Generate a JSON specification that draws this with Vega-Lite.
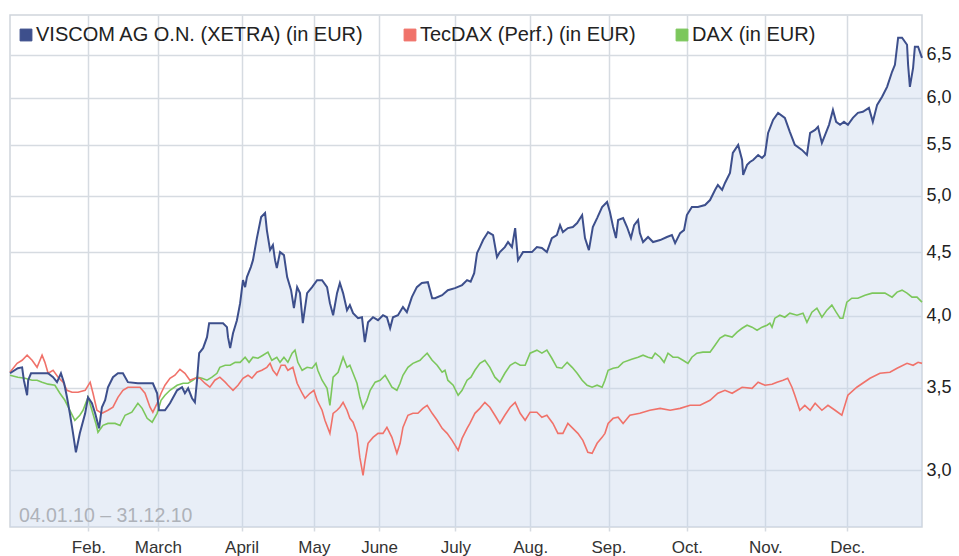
{
  "$schema": "https://vega.github.io/schema/vega-lite/v6.json",
  "width": 912,
  "height": 512,
  "autosize": {"type": "none"},
  "padding": {"left": 10, "top": 15, "right": 37, "bottom": 29},
  "background": "white",
  "config": {
    "font": "Liberation Sans",
    "view": {"stroke": "#cfd5dc", "strokeWidth": 1.5},
    "axis": {"grid": true, "gridColor": "#d6dbe1", "gridWidth": 1.5, "domain": false, "title": null, "labelFont": "Liberation Sans"}
  },
  "datasets": {
    "viscom": [
      {"t":0,"v":3.594},{"t":2.2,"v":3.628},{"t":3.4,"v":3.634},{"t":3.9,"v":3.548},{"t":4.8,"v":3.45},{"t":5.1,"v":3.548},{"t":5.9,"v":3.594},{"t":7.9,"v":3.594},{"t":10.7,"v":3.594},{"t":12.1,"v":3.568},{"t":13.2,"v":3.535},{"t":14.3,"v":3.594},{"t":15.2,"v":3.528},{"t":16.0,"v":3.437},{"t":16.8,"v":3.336},{"t":17.7,"v":3.214},{"t":18.5,"v":3.102},{"t":19.6,"v":3.214},{"t":21.1,"v":3.336},{"t":21.9,"v":3.437},{"t":23.0,"v":3.399},{"t":23.9,"v":3.336},{"t":25.0,"v":3.244},{"t":25.8,"v":3.374},{"t":26.7,"v":3.418},{"t":27.5,"v":3.502},{"t":28.9,"v":3.568},{"t":30.3,"v":3.594},{"t":31.7,"v":3.594},{"t":33.1,"v":3.535},{"t":35.9,"v":3.528},{"t":38.7,"v":3.528},{"t":40.1,"v":3.528},{"t":41.3,"v":3.463},{"t":41.8,"v":3.355},{"t":43.5,"v":3.355},{"t":44.9,"v":3.399},{"t":46.9,"v":3.482},{"t":48.3,"v":3.502},{"t":49.1,"v":3.463},{"t":50.0,"v":3.495},{"t":51.1,"v":3.431},{"t":51.9,"v":3.405},{"t":52.5,"v":3.548},{"t":53.1,"v":3.731},{"t":54.2,"v":3.766},{"t":55.3,"v":3.844},{"t":55.9,"v":3.945},{"t":57.5,"v":3.945},{"t":59.8,"v":3.945},{"t":60.9,"v":3.916},{"t":61.2,"v":3.844},{"t":61.8,"v":3.766},{"t":62.6,"v":3.872},{"t":63.7,"v":3.967},{"t":64.6,"v":4.095},{"t":65.4,"v":4.274},{"t":66.0,"v":4.219},{"t":66.5,"v":4.298},{"t":67.6,"v":4.379},{"t":68.2,"v":4.436},{"t":69.3,"v":4.622},{"t":70.5,"v":4.806},{"t":71.6,"v":4.842},{"t":72.1,"v":4.691},{"t":73.0,"v":4.52},{"t":73.8,"v":4.562},{"t":74.4,"v":4.436},{"t":74.9,"v":4.371},{"t":75.8,"v":4.503},{"t":76.9,"v":4.478},{"t":77.8,"v":4.298},{"t":78.9,"v":4.195},{"t":79.7,"v":4.057},{"t":80.6,"v":4.219},{"t":81.4,"v":4.172},{"t":82.2,"v":3.945},{"t":83.4,"v":4.172},{"t":84.8,"v":4.219},{"t":86.2,"v":4.274},{"t":87.6,"v":4.274},{"t":89.0,"v":4.219},{"t":89.8,"v":4.095},{"t":90.7,"v":4.004},{"t":91.8,"v":4.172},{"t":92.6,"v":4.251},{"t":93.5,"v":4.172},{"t":94.6,"v":4.042},{"t":95.4,"v":4.08},{"t":96.3,"v":4.019},{"t":97.7,"v":3.982},{"t":98.8,"v":3.989},{"t":99.6,"v":3.808},{"t":100.5,"v":3.952},{"t":101.9,"v":3.989},{"t":103.3,"v":3.967},{"t":104.7,"v":4.004},{"t":105.8,"v":3.989},{"t":106.7,"v":3.908},{"t":107.5,"v":3.989},{"t":108.9,"v":4.004},{"t":110.3,"v":4.065},{"t":111.4,"v":4.027},{"t":112.8,"v":4.141},{"t":114.2,"v":4.219},{"t":115.6,"v":4.251},{"t":117.3,"v":4.258},{"t":118.5,"v":4.133},{"t":119.3,"v":4.133},{"t":121.3,"v":4.156},{"t":122.9,"v":4.195},{"t":124.9,"v":4.211},{"t":126.9,"v":4.235},{"t":128.3,"v":4.274},{"t":129.3,"v":4.262},{"t":130.3,"v":4.33},{"t":131.1,"v":4.495},{"t":131.9,"v":4.545},{"t":132.8,"v":4.605},{"t":134.2,"v":4.674},{"t":135.6,"v":4.648},{"t":136.7,"v":4.461},{"t":137.5,"v":4.503},{"t":138.9,"v":4.545},{"t":139.8,"v":4.588},{"t":140.9,"v":4.545},{"t":141.8,"v":4.709},{"t":142.6,"v":4.436},{"t":144.0,"v":4.503},{"t":146.5,"v":4.503},{"t":147.9,"v":4.545},{"t":149.3,"v":4.537},{"t":150.7,"v":4.503},{"t":152.1,"v":4.622},{"t":153.5,"v":4.648},{"t":154.4,"v":4.735},{"t":155.2,"v":4.674},{"t":156.6,"v":4.709},{"t":158.0,"v":4.718},{"t":159.2,"v":4.753},{"t":160.6,"v":4.824},{"t":161.4,"v":4.622},{"t":162.5,"v":4.52},{"t":163.6,"v":4.718},{"t":164.8,"v":4.797},{"t":166.2,"v":4.897},{"t":167.6,"v":4.943},{"t":168.4,"v":4.852},{"t":169.3,"v":4.718},{"t":170.1,"v":4.622},{"t":170.7,"v":4.78},{"t":172.1,"v":4.797},{"t":173.2,"v":4.718},{"t":174.3,"v":4.622},{"t":175.2,"v":4.735},{"t":176.3,"v":4.78},{"t":176.8,"v":4.665},{"t":177.7,"v":4.588},{"t":179.1,"v":4.631},{"t":180.5,"v":4.588},{"t":182.5,"v":4.605},{"t":184.4,"v":4.631},{"t":185.8,"v":4.648},{"t":186.7,"v":4.579},{"t":188.1,"v":4.665},{"t":189.2,"v":4.691},{"t":190.0,"v":4.824},{"t":191.4,"v":4.897},{"t":193.1,"v":4.897},{"t":195.1,"v":4.915},{"t":196.5,"v":4.961},{"t":197.9,"v":5.055},{"t":198.7,"v":5.102},{"t":199.9,"v":5.055},{"t":200.7,"v":5.121},{"t":202.1,"v":5.218},{"t":202.9,"v":5.415},{"t":204.4,"v":5.497},{"t":205.5,"v":5.345},{"t":205.8,"v":5.198},{"t":206.9,"v":5.296},{"t":207.7,"v":5.325},{"t":208.6,"v":5.345},{"t":210.0,"v":5.395},{"t":211.1,"v":5.365},{"t":211.9,"v":5.395},{"t":212.8,"v":5.621},{"t":214.2,"v":5.759},{"t":215.6,"v":5.835},{"t":217.5,"v":5.781},{"t":218.9,"v":5.632},{"t":220.3,"v":5.497},{"t":222.3,"v":5.446},{"t":223.7,"v":5.395},{"t":224.6,"v":5.621},{"t":226.0,"v":5.653},{"t":226.8,"v":5.685},{"t":227.9,"v":5.517},{"t":228.8,"v":5.6},{"t":229.9,"v":5.706},{"t":231.0,"v":5.867},{"t":231.9,"v":5.738},{"t":233.0,"v":5.706},{"t":234.1,"v":5.738},{"t":235.2,"v":5.706},{"t":236.6,"v":5.781},{"t":238.0,"v":5.835},{"t":239.4,"v":5.846},{"t":241.1,"v":5.889},{"t":242.2,"v":5.738},{"t":243.4,"v":5.922},{"t":244.8,"v":6.012},{"t":246.2,"v":6.124},{"t":247.6,"v":6.298},{"t":248.4,"v":6.38},{"t":249.3,"v":6.71},{"t":250.4,"v":6.71},{"t":251.8,"v":6.623},{"t":252.1,"v":6.38},{"t":252.6,"v":6.124},{"t":253.5,"v":6.345},{"t":254.0,"v":6.598},{"t":254.9,"v":6.598},{"t":256.0,"v":6.464}
    ],
    "dax": [
      {"t":0,"v":3.581},{"t":2.2,"v":3.568},{"t":4.2,"v":3.561},{"t":6.2,"v":3.548},{"t":7.6,"v":3.548},{"t":9.0,"v":3.535},{"t":10.7,"v":3.522},{"t":12.6,"v":3.515},{"t":14.0,"v":3.463},{"t":15.4,"v":3.418},{"t":16.8,"v":3.355},{"t":18.2,"v":3.293},{"t":19.6,"v":3.324},{"t":20.5,"v":3.355},{"t":21.9,"v":3.437},{"t":23.0,"v":3.355},{"t":24.1,"v":3.274},{"t":24.7,"v":3.22},{"t":26.1,"v":3.262},{"t":27.5,"v":3.274},{"t":29.5,"v":3.274},{"t":30.9,"v":3.262},{"t":32.3,"v":3.324},{"t":34.2,"v":3.343},{"t":35.9,"v":3.399},{"t":37.1,"v":3.367},{"t":38.5,"v":3.305},{"t":39.9,"v":3.281},{"t":41.3,"v":3.336},{"t":42.4,"v":3.418},{"t":43.5,"v":3.45},{"t":44.9,"v":3.482},{"t":46.9,"v":3.515},{"t":48.6,"v":3.528},{"t":50.0,"v":3.528},{"t":51.4,"v":3.548},{"t":52.5,"v":3.568},{"t":53.9,"v":3.561},{"t":55.3,"v":3.548},{"t":56.7,"v":3.568},{"t":58.1,"v":3.594},{"t":58.9,"v":3.634},{"t":60.4,"v":3.648},{"t":61.8,"v":3.648},{"t":63.2,"v":3.668},{"t":64.6,"v":3.668},{"t":66.0,"v":3.703},{"t":67.1,"v":3.668},{"t":68.2,"v":3.703},{"t":69.6,"v":3.696},{"t":71.0,"v":3.717},{"t":72.4,"v":3.738},{"t":73.5,"v":3.682},{"t":74.9,"v":3.703},{"t":75.8,"v":3.668},{"t":76.9,"v":3.703},{"t":78.0,"v":3.668},{"t":79.2,"v":3.731},{"t":80.0,"v":3.752},{"t":80.8,"v":3.668},{"t":82.0,"v":3.614},{"t":83.4,"v":3.634},{"t":84.8,"v":3.628},{"t":85.9,"v":3.661},{"t":86.4,"v":3.614},{"t":87.6,"v":3.548},{"t":89.0,"v":3.495},{"t":89.8,"v":3.386},{"t":90.7,"v":3.568},{"t":92.1,"v":3.601},{"t":93.5,"v":3.703},{"t":94.6,"v":3.634},{"t":95.4,"v":3.648},{"t":96.3,"v":3.594},{"t":97.4,"v":3.528},{"t":98.2,"v":3.437},{"t":99.1,"v":3.367},{"t":100.2,"v":3.418},{"t":101.1,"v":3.482},{"t":102.5,"v":3.535},{"t":103.9,"v":3.548},{"t":105.3,"v":3.581},{"t":106.1,"v":3.548},{"t":107.2,"v":3.502},{"t":108.6,"v":3.482},{"t":109.5,"v":3.528},{"t":110.3,"v":3.581},{"t":111.7,"v":3.634},{"t":113.1,"v":3.661},{"t":115.1,"v":3.682},{"t":115.9,"v":3.703},{"t":117.1,"v":3.731},{"t":118.5,"v":3.682},{"t":119.9,"v":3.648},{"t":121.3,"v":3.601},{"t":122.1,"v":3.614},{"t":122.9,"v":3.548},{"t":124.4,"v":3.515},{"t":125.8,"v":3.45},{"t":126.9,"v":3.482},{"t":128.3,"v":3.548},{"t":129.4,"v":3.568},{"t":130.5,"v":3.614},{"t":131.9,"v":3.661},{"t":133.3,"v":3.682},{"t":134.7,"v":3.634},{"t":136.1,"v":3.568},{"t":137.5,"v":3.535},{"t":138.9,"v":3.594},{"t":140.4,"v":3.648},{"t":141.8,"v":3.668},{"t":143.2,"v":3.648},{"t":144.6,"v":3.648},{"t":146.0,"v":3.731},{"t":147.9,"v":3.752},{"t":149.3,"v":3.731},{"t":150.7,"v":3.752},{"t":152.1,"v":3.696},{"t":153.5,"v":3.634},{"t":154.9,"v":3.628},{"t":156.4,"v":3.668},{"t":157.8,"v":3.634},{"t":159.2,"v":3.594},{"t":160.6,"v":3.548},{"t":162.0,"v":3.515},{"t":163.4,"v":3.502},{"t":164.8,"v":3.515},{"t":166.2,"v":3.502},{"t":167.0,"v":3.548},{"t":167.9,"v":3.614},{"t":169.3,"v":3.628},{"t":170.7,"v":3.634},{"t":172.1,"v":3.668},{"t":174.5,"v":3.689},{"t":176.3,"v":3.703},{"t":177.7,"v":3.717},{"t":179.1,"v":3.703},{"t":180.2,"v":3.696},{"t":181.1,"v":3.731},{"t":182.5,"v":3.703},{"t":183.6,"v":3.668},{"t":184.7,"v":3.731},{"t":186.1,"v":3.703},{"t":187.5,"v":3.703},{"t":188.9,"v":3.682},{"t":190.3,"v":3.661},{"t":191.4,"v":3.703},{"t":192.8,"v":3.731},{"t":194.5,"v":3.738},{"t":196.5,"v":3.738},{"t":197.9,"v":3.787},{"t":199.3,"v":3.837},{"t":200.7,"v":3.858},{"t":202.7,"v":3.844},{"t":204.1,"v":3.88},{"t":205.5,"v":3.908},{"t":206.9,"v":3.93},{"t":208.3,"v":3.916},{"t":209.7,"v":3.894},{"t":211.1,"v":3.916},{"t":212.5,"v":3.93},{"t":213.3,"v":3.945},{"t":213.9,"v":3.916},{"t":214.7,"v":3.982},{"t":216.1,"v":4.004},{"t":217.5,"v":3.989},{"t":218.9,"v":4.019},{"t":220.9,"v":4.004},{"t":222.6,"v":4.019},{"t":223.7,"v":3.952},{"t":225.1,"v":4.027},{"t":226.5,"v":4.057},{"t":227.9,"v":3.989},{"t":229.3,"v":4.042},{"t":230.7,"v":4.08},{"t":231.9,"v":4.027},{"t":233.0,"v":3.982},{"t":233.8,"v":3.982},{"t":234.9,"v":4.103},{"t":236.3,"v":4.133},{"t":238.0,"v":4.133},{"t":240.0,"v":4.156},{"t":242.0,"v":4.172},{"t":243.6,"v":4.172},{"t":245.6,"v":4.172},{"t":247.6,"v":4.141},{"t":249.0,"v":4.18},{"t":250.4,"v":4.195},{"t":251.8,"v":4.172},{"t":253.2,"v":4.141},{"t":254.6,"v":4.141},{"t":256.0,"v":4.103}
    ],
    "tecdax": [
      {"t":0,"v":3.601},{"t":2.0,"v":3.661},{"t":3.4,"v":3.682},{"t":4.8,"v":3.717},{"t":6.2,"v":3.682},{"t":7.6,"v":3.634},{"t":9.0,"v":3.717},{"t":9.8,"v":3.668},{"t":10.7,"v":3.594},{"t":12.1,"v":3.614},{"t":13.5,"v":3.568},{"t":14.9,"v":3.535},{"t":16.0,"v":3.482},{"t":17.4,"v":3.469},{"t":19.1,"v":3.469},{"t":21.1,"v":3.482},{"t":22.5,"v":3.535},{"t":23.3,"v":3.463},{"t":24.4,"v":3.355},{"t":25.8,"v":3.336},{"t":27.5,"v":3.355},{"t":28.9,"v":3.374},{"t":30.3,"v":3.437},{"t":31.7,"v":3.482},{"t":33.1,"v":3.502},{"t":35.1,"v":3.502},{"t":36.5,"v":3.502},{"t":37.9,"v":3.463},{"t":39.3,"v":3.374},{"t":40.1,"v":3.343},{"t":41.3,"v":3.399},{"t":42.4,"v":3.463},{"t":43.5,"v":3.515},{"t":44.9,"v":3.561},{"t":46.3,"v":3.581},{"t":47.7,"v":3.621},{"t":49.1,"v":3.594},{"t":50.5,"v":3.548},{"t":51.9,"v":3.561},{"t":53.3,"v":3.561},{"t":54.7,"v":3.528},{"t":56.1,"v":3.502},{"t":57.5,"v":3.548},{"t":58.9,"v":3.568},{"t":60.4,"v":3.535},{"t":61.2,"v":3.515},{"t":62.6,"v":3.482},{"t":64.0,"v":3.515},{"t":65.4,"v":3.561},{"t":66.8,"v":3.581},{"t":67.9,"v":3.561},{"t":69.3,"v":3.601},{"t":70.7,"v":3.614},{"t":72.1,"v":3.634},{"t":73.0,"v":3.661},{"t":73.8,"v":3.614},{"t":74.9,"v":3.581},{"t":76.1,"v":3.648},{"t":77.2,"v":3.648},{"t":78.0,"v":3.614},{"t":79.4,"v":3.634},{"t":80.6,"v":3.528},{"t":82.0,"v":3.463},{"t":82.8,"v":3.431},{"t":84.2,"v":3.463},{"t":85.3,"v":3.482},{"t":86.2,"v":3.418},{"t":87.6,"v":3.355},{"t":88.4,"v":3.293},{"t":89.8,"v":3.214},{"t":90.7,"v":3.336},{"t":91.8,"v":3.355},{"t":92.6,"v":3.374},{"t":93.5,"v":3.405},{"t":94.6,"v":3.355},{"t":95.4,"v":3.305},{"t":96.3,"v":3.281},{"t":97.4,"v":3.214},{"t":98.2,"v":3.073},{"t":99.1,"v":2.972},{"t":99.6,"v":3.045},{"t":100.5,"v":3.155},{"t":101.9,"v":3.19},{"t":103.3,"v":3.214},{"t":104.7,"v":3.214},{"t":105.8,"v":3.25},{"t":107.2,"v":3.19},{"t":108.6,"v":3.097},{"t":109.5,"v":3.155},{"t":110.3,"v":3.25},{"t":111.7,"v":3.324},{"t":113.1,"v":3.336},{"t":114.5,"v":3.336},{"t":115.9,"v":3.367},{"t":117.1,"v":3.386},{"t":118.5,"v":3.336},{"t":119.9,"v":3.293},{"t":121.3,"v":3.244},{"t":122.7,"v":3.214},{"t":124.1,"v":3.172},{"t":125.8,"v":3.114},{"t":126.9,"v":3.184},{"t":128.3,"v":3.244},{"t":129.1,"v":3.274},{"t":130.5,"v":3.336},{"t":131.9,"v":3.367},{"t":133.3,"v":3.405},{"t":134.7,"v":3.374},{"t":136.1,"v":3.324},{"t":137.5,"v":3.274},{"t":138.9,"v":3.324},{"t":140.4,"v":3.374},{"t":141.8,"v":3.405},{"t":143.2,"v":3.336},{"t":144.6,"v":3.293},{"t":146.0,"v":3.343},{"t":147.9,"v":3.343},{"t":149.3,"v":3.312},{"t":150.7,"v":3.324},{"t":152.4,"v":3.274},{"t":153.8,"v":3.214},{"t":155.2,"v":3.214},{"t":156.6,"v":3.274},{"t":158.0,"v":3.244},{"t":159.4,"v":3.214},{"t":160.8,"v":3.172},{"t":162.2,"v":3.102},{"t":163.4,"v":3.097},{"t":164.8,"v":3.155},{"t":166.2,"v":3.19},{"t":167.0,"v":3.214},{"t":167.9,"v":3.274},{"t":169.3,"v":3.305},{"t":170.7,"v":3.312},{"t":172.1,"v":3.274},{"t":174.0,"v":3.324},{"t":176.8,"v":3.336},{"t":179.6,"v":3.355},{"t":182.5,"v":3.367},{"t":185.3,"v":3.355},{"t":188.1,"v":3.367},{"t":190.9,"v":3.386},{"t":193.7,"v":3.386},{"t":196.5,"v":3.418},{"t":198.7,"v":3.463},{"t":200.7,"v":3.482},{"t":202.7,"v":3.463},{"t":205.5,"v":3.502},{"t":208.3,"v":3.495},{"t":210.0,"v":3.535},{"t":211.9,"v":3.515},{"t":213.9,"v":3.521},{"t":215.3,"v":3.535},{"t":217.0,"v":3.548},{"t":218.3,"v":3.561},{"t":219.5,"v":3.502},{"t":220.3,"v":3.45},{"t":221.7,"v":3.355},{"t":223.1,"v":3.386},{"t":224.6,"v":3.355},{"t":226.0,"v":3.399},{"t":227.9,"v":3.355},{"t":229.6,"v":3.386},{"t":231.6,"v":3.355},{"t":233.5,"v":3.324},{"t":235.2,"v":3.45},{"t":237.7,"v":3.502},{"t":241.4,"v":3.561},{"t":244.2,"v":3.594},{"t":247.0,"v":3.601},{"t":249.0,"v":3.628},{"t":251.8,"v":3.661},{"t":253.5,"v":3.648},{"t":254.9,"v":3.668},{"t":256.0,"v":3.661}
    ],
    "note": [{"label": "04.01.10 – 31.12.10"}]
  },
  "layer": [
    {
      "encoding": {
        "x": {
          "field": "t", "type": "quantitative",
          "scale": {"domain": [0, 256], "nice": false, "zero": false},
          "axis": {
            "values": [22, 41.5, 65, 85.3, 103.6, 125, 146, 168, 190, 212, 235],
            "labelExpr": "datum.value < 30 ? 'Feb.' : datum.value < 50 ? 'March' : datum.value < 75 ? 'April' : datum.value < 95 ? 'May' : datum.value < 115 ? 'June' : datum.value < 135 ? 'July' : datum.value < 155 ? 'Aug.' : datum.value < 180 ? 'Sep.' : datum.value < 200 ? 'Oct.' : datum.value < 225 ? 'Nov.' : 'Dec.'",
            "labelFontSize": 17, "labelColor": "#333333", "tickColor": "#d6dbe1", "tickSize": 4, "tickWidth": 1.5,
            "labelPadding": 8, "labelFlush": false, "labelOverlap": false
          }
        },
        "y": {
          "field": "v", "type": "quantitative",
          "scale": {"type": "log", "domain": [2.7, 7.0], "nice": false, "zero": false},
          "axis": {
            "orient": "right",
            "values": [3, 3.5, 4, 4.5, 5, 5.5, 6, 6.5],
            "labelExpr": "replace(format(datum.value, '.1f'), '.', ',')",
            "ticks": false, "labelPadding": 4, "labelFontSize": 18, "labelColor": "#222222", "labelAlign": "left"
          }
        }
      },
      "layer": [
        {
          "data": {"name": "viscom"},
          "mark": {"type": "area", "fill": "#c9d6ec", "opacity": 0.42},
          "encoding": {"y2": {"datum": 2.7}}
        },
        {
          "data": {"name": "dax"},
          "mark": {"type": "line", "strokeWidth": 1.6},
          "encoding": {
            "color": {
              "datum": "DAX (in EUR)",
              "scale": {
                "domain": ["VISCOM AG O.N. (XETRA) (in EUR)", "TecDAX (Perf.) (in EUR)", "DAX (in EUR)"],
                "range": ["#3d4f8c", "#f0726a", "#7cc75c"]
              },
              "legend": {
                "orient": "none", "legendX": 6, "legendY": 10, "direction": "horizontal",
                "title": null, "symbolType": "square", "symbolSize": 140, "symbolStrokeWidth": 1,
                "symbolStrokeColor": "#333333",
                "labelFontSize": 20, "labelFont": "Liberation Sans", "labelColor": "#222222",
                "columnPadding": 36, "labelOffset": 0, "padding": 0, "labelLimit": 0,
                "encode": {"symbols": {"update": {"fill": {"scale": "color", "field": "value"}, "stroke": {"value": "#333333"}, "strokeWidth": {"value": 1}, "opacity": {"value": 1}}}}
              }
            }
          }
        },
        {
          "data": {"name": "tecdax"},
          "mark": {"type": "line", "strokeWidth": 1.6},
          "encoding": {"color": {"datum": "TecDAX (Perf.) (in EUR)"}}
        },
        {
          "data": {"name": "viscom"},
          "mark": {"type": "line", "strokeWidth": 2},
          "encoding": {"color": {"datum": "VISCOM AG O.N. (XETRA) (in EUR)"}}
        }
      ]
    },
    {
      "data": {"name": "note"},
      "mark": {"type": "text", "align": "left", "baseline": "alphabetic", "fontSize": 19.5, "color": "#aeb2b9"},
      "encoding": {
        "x": {"datum": 2.5, "type": "quantitative"},
        "y": {"datum": 2.723, "type": "quantitative"},
        "text": {"field": "label", "type": "nominal"}
      }
    }
  ]
}
